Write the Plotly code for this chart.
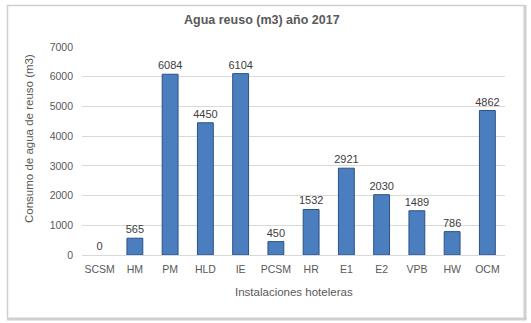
import plotly.graph_objects as go

categories = ["SCSM", "HM", "PM", "HLD", "IE", "PCSM", "HR", "E1", "E2", "VPB", "HW", "OCM"]
values = [0, 565, 6084, 4450, 6104, 450, 1532, 2921, 2030, 1489, 786, 4862]
y_ticks = [0, 1000, 2000, 3000, 4000, 5000, 6000, 7000]

W, H = 531, 323
L, R, T, B = 82, 26, 47, 68
pw, ph = W - L - R, H - T - B

def px(x):
    return (x - L) / pw

def py(y):
    return (H - B - y) / ph

font_fam = "Liberation Sans, Arial, sans-serif"
txt = "#595959"

fig = go.Figure()
fig.add_trace(go.Bar(
    x=categories, y=values,
    marker=dict(color="#4a7ebf",
                line=dict(color="#2c5286", width=[1 if v > 0 else 0 for v in values])),
    text=[str(v) for v in values], textposition="outside",
    textfont=dict(family=font_fam, size=11, color="#404040"),
    constraintext="none",
    cliponaxis=False,
))

fig.update_layout(
    width=W, height=H,
    margin=dict(l=L, r=R, t=T, b=B),
    paper_bgcolor="white", plot_bgcolor="white",
    bargap=0.55,
    showlegend=False,
    font=dict(family=font_fam, size=10.5, color=txt),
    xaxis=dict(
        showgrid=False, showline=True, linecolor="#d9d9d9", linewidth=1,
        ticks="", tickfont=dict(size=10.5, color=txt), ticklabelstandoff=4,
    ),
    yaxis=dict(
        range=[0, 7000], tickvals=y_ticks, showgrid=True, gridcolor="#d9d9d9",
        zeroline=False, showline=False, ticks="", ticklen=0,
        tickfont=dict(size=10.5, color=txt), ticklabelstandoff=8,
    ),
    annotations=[
        dict(text="<b>Agua reuso (m3) año 2017</b>", xref="paper", yref="paper",
             x=px(262), y=py(20), xanchor="center", yanchor="middle", showarrow=False,
             font=dict(size=12.5, color=txt, family=font_fam)),
        dict(text="Consumo de agua de reuso (m3)", xref="paper", yref="paper",
             x=px(29), y=py(139), xanchor="center", yanchor="middle", showarrow=False,
             textangle=-90, font=dict(size=11.5, color=txt, family=font_fam)),
        dict(text="Instalaciones hoteleras", xref="paper", yref="paper",
             x=px(294), y=py(292), xanchor="center", yanchor="middle", showarrow=False,
             font=dict(size=11.5, color=txt, family=font_fam)),
    ],
    shapes=[
        dict(type="line", xref="paper", yref="paper",
             x0=px(7.5), x1=px(7.5), y0=py(5), y1=py(318),
             line=dict(color="#d0d0d0", width=1.5)),
        dict(type="line", xref="paper", yref="paper",
             x0=px(7), x1=px(524), y0=py(5.5), y1=py(5.5),
             line=dict(color="#d0d0d0", width=1.5)),
        dict(type="line", xref="paper", yref="paper",
             x0=px(525), x1=px(525), y0=py(5), y1=py(319.5),
             line=dict(color="#d0d0d0", width=3)),
        dict(type="line", xref="paper", yref="paper",
             x0=px(7), x1=px(526.5), y0=py(319), y1=py(319),
             line=dict(color="#d0d0d0", width=3)),
    ],
)

fig.write_html("out.html", config={"displayModeBar": False},
               post_script="document.body.style.margin='0';document.body.style.padding='0';")
